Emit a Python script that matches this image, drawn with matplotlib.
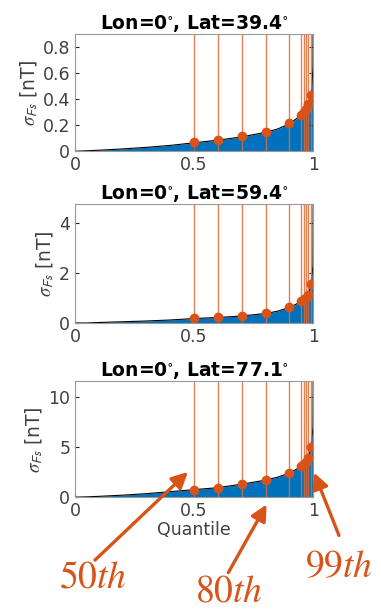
import matplotlib.pyplot as plt
from matplotlib.patches import FancyArrowPatch

# quantile grid for the distribution curve
q_grid = [0, 0.05, 0.1, 0.2, 0.3, 0.4, 0.5, 0.6, 0.7, 0.8, 0.85, 0.9, 0.93,
          0.95, 0.97, 0.98, 0.99, 0.995, 0.999, 1.0]
curve_39 = [0, 0.004, 0.008, 0.018, 0.03, 0.045, 0.065, 0.085, 0.11, 0.145, 0.17,
            0.21, 0.25, 0.28, 0.32, 0.36, 0.43, 0.5, 0.65, 1.2]
curve_59 = [0, 0.0, 0.02, 0.05, 0.08, 0.12, 0.18, 0.22, 0.28, 0.38, 0.47,
            0.62, 0.76, 0.88, 1.0, 1.1, 1.55, 1.9, 2.3, 5.0]
curve_77 = [0, 0.03, 0.08, 0.2, 0.35, 0.55, 0.75, 0.95, 1.3, 1.7, 2.0,
            2.4, 2.8, 3.1, 3.5, 3.9, 5.0, 6.0, 7.0, 12.0]

# marked quantiles
q_marks = [0.5, 0.6, 0.7, 0.8, 0.9, 0.95, 0.96, 0.97, 0.98, 0.99]
marks_39 = [0.07, 0.09, 0.115, 0.15, 0.215, 0.28, 0.30, 0.32, 0.36, 0.43]
marks_59 = [0.18, 0.22, 0.28, 0.38, 0.62, 0.88, 0.95, 1.0, 1.1, 1.55]
marks_77 = [0.75, 0.95, 1.3, 1.7, 2.4, 3.1, 3.3, 3.5, 3.9, 5.0]

titles = ['Lon=0$^{\\circ}$, Lat=39.4$^{\\circ}$',
          'Lon=0$^{\\circ}$, Lat=59.4$^{\\circ}$',
          'Lon=0$^{\\circ}$, Lat=77.1$^{\\circ}$']
ylims = [0.9, 4.75, 11.6]
yticks = [[0, 0.2, 0.4, 0.6, 0.8], [0, 2, 4], [0, 5, 10]]
ytick_labels = [['0', '0.2', '0.4', '0.6', '0.8'], ['0', '2', '4'], ['0', '5', '10']]

blue = '#0072BD'
orange = '#D95319'
grey = '#262626'

plt.rcParams['mathtext.fontset'] = 'stix'

fig = plt.figure(figsize=(3.81, 6.1), dpi=100)
positions = [[0.197, 0.752, 0.625, 0.193],
             [0.197, 0.4705, 0.625, 0.195],
             [0.197, 0.185, 0.625, 0.190]]
curves = [curve_39, curve_59, curve_77]
marks = [marks_39, marks_59, marks_77]

for i in range(3):
    ax = fig.add_axes(positions[i])
    ax.fill_between(q_grid, curves[i], 0, color=blue, lw=0)
    ax.plot(q_grid, curves[i], color='k', lw=0.8)
    for q in q_marks:
        ax.axvline(q, color='#E06A35', lw=1.0, alpha=0.85)
    ax.plot(q_marks, marks[i], 'o', color=orange, ms=6)
    ax.set_xlim(0, 1)
    ax.set_ylim(0, ylims[i])
    ax.set_xticks([0, 0.5, 1])
    ax.set_xticklabels(['0', '0.5', '1'])
    ax.set_yticks(yticks[i])
    ax.set_yticklabels(ytick_labels[i])
    ax.tick_params(direction='in', length=3, labelsize=12.5, colors=grey,
                   labelcolor='#404040', top=False, right=True)
    for s in ax.spines.values():
        s.set_color('#999999')
        s.set_linewidth(0.8)
    ax.set_title(titles[i], fontsize=13.5, fontweight='bold', pad=3)
    ax.set_ylabel(r'$\sigma_{\mathsf{Fs}}$ [nT]', fontsize=13.5, color='#404040', labelpad=2)

ax.set_xlabel('Quantile', fontsize=12.5, color='#404040', labelpad=1)

# annotation arrows
arrows = [('$50th$', (93, 562), (190, 470), (93, 578)),
          ('$80th$', (227, 575), (268, 502), (229, 591)),
          ('$99th$', (340, 538), (313, 470), (339, 567))]
for label, start, tip, txt in arrows:
    fig.patches.append(FancyArrowPatch(
        (start[0] / 381, 1 - start[1] / 610), (tip[0] / 381, 1 - tip[1] / 610),
        transform=fig.transFigure, arrowstyle='-|>', mutation_scale=24,
        color=orange, lw=2.4))
    fig.text(txt[0] / 381, 1 - txt[1] / 610, label, color=orange, fontsize=27,
             ha='center', va='center')

fig.savefig('out.png', dpi=100)
